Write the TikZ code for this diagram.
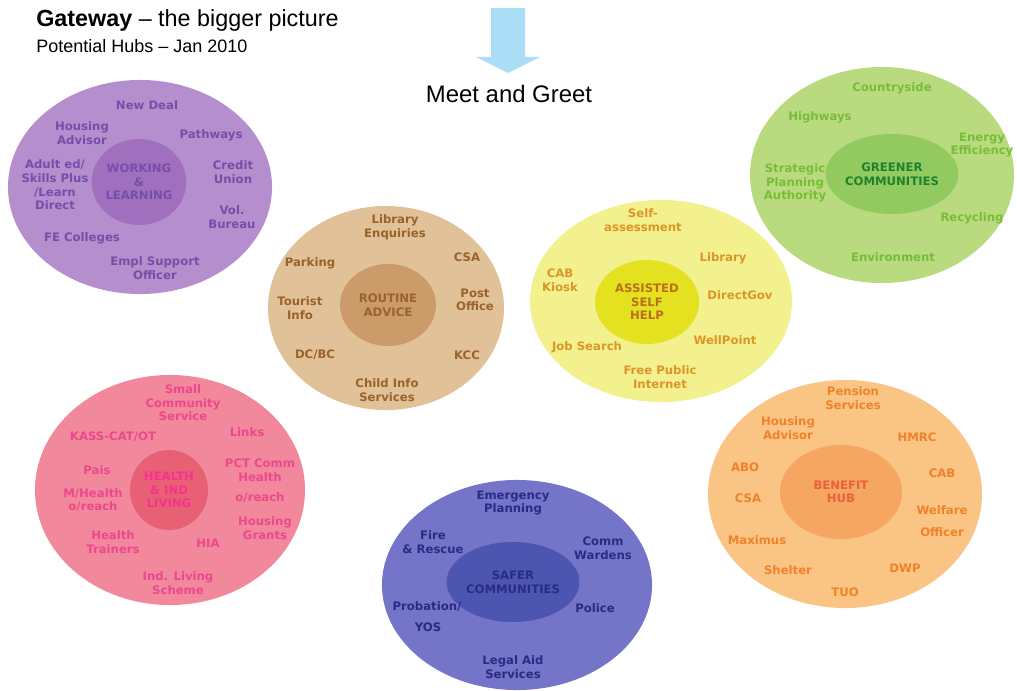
\documentclass[tikz,border=0pt]{standalone}
\usepackage{fontspec}
\setmainfont{Liberation Sans}
\newfontfamily\hubfont{DejaVu Sans}
\usetikzlibrary{shapes.geometric}

% fills and text colours of the seven hubs
\definecolor{wlOut}{RGB}{181,142,205}
\definecolor{wlIn}{RGB}{160,112,190}
\definecolor{wlTxt}{RGB}{118,78,170}
\definecolor{raOut}{RGB}{224,193,152}
\definecolor{raIn}{RGB}{204,155,106}
\definecolor{raTxt}{RGB}{155,98,42}
\definecolor{ashOut}{RGB}{243,240,142}
\definecolor{ashIn}{RGB}{228,226,32}
\definecolor{ashTxt}{RGB}{220,150,40}
\definecolor{ashCore}{RGB}{185,110,30}
\definecolor{gcOut}{RGB}{186,218,128}
\definecolor{gcIn}{RGB}{146,202,96}
\definecolor{gcTxt}{RGB}{118,190,55}
\definecolor{gcCore}{RGB}{30,130,45}
\definecolor{hlOut}{RGB}{242,136,156}
\definecolor{hlIn}{RGB}{231,96,116}
\definecolor{hlTxt}{RGB}{236,72,140}
\definecolor{hlCore}{RGB}{245,50,145}
\definecolor{scOut}{RGB}{116,116,200}
\definecolor{scIn}{RGB}{76,86,176}
\definecolor{scTxt}{RGB}{42,42,135}
\definecolor{bhOut}{RGB}{250,196,132}
\definecolor{bhIn}{RGB}{245,166,96}
\definecolor{bhTxt}{RGB}{240,130,40}
\definecolor{bhCore}{RGB}{234,96,60}
\definecolor{arrowBlue}{RGB}{172,221,246}

\tikzset{
  hub/.style={ellipse, inner sep=0pt, draw=none},
  core/.style={ellipse, inner sep=0pt, draw=none, align=center,
    font=\hubfont\bfseries\fontsize{8.3}{9.7}\selectfont},
  lbl/.style={align=center, inner sep=0pt,
    font=\hubfont\bfseries\fontsize{8.3}{9.7}\selectfont},
}

\begin{document}
\begin{tikzpicture}[x=0.025cm, y=-0.025cm]
\useasboundingbox (0,0) rectangle (1017,690);

% heading
\node[anchor=base west, inner sep=0pt, font=\fontsize{16.6}{19}\selectfont] (title) at (36,27)
  {\textbf{Gateway} -- the bigger picture};
\node[anchor=base west, inner sep=0pt, font=\fontsize{12.8}{15}\selectfont] (subtitle) at (36,53)
  {Potential Hubs -- Jan 2010};

% entry arrow
\fill[arrowBlue] (491,8) -- (525,8) -- (525,57) -- (540,57) -- (508,73)
  -- (476,57) -- (491,57) -- cycle;
\node[anchor=base, inner sep=0pt, font=\fontsize{17}{20}\selectfont] (meet) at (509,103)
  {Meet and Greet};

% Working & Learning
\node[hub, fill=wlOut, minimum width=6.6cm, minimum height=5.35cm] (wl) at (140,187) {};
\node[core, fill=wlIn, text=wlTxt, minimum width=2.3cm, minimum height=2.15cm] (wlc) at (139,182)
  {WORKING\\\&\\LEARNING};
\begin{scope}[every node/.append style={lbl, text=wlTxt}]
\node (wl1) at (147,105) {New Deal};
\node (wl2) at (82,133) {Housing\\Advisor};
\node (wl3) at (211,135) {Pathways};
\node (wl4) at (55,185) {Adult ed/\\Skills Plus\\/Learn\\Direct};
\node (wl5) at (233,172) {Credit\\Union};
\node (wl6) at (232,217) {Vol.\\Bureau};
\node (wl7) at (82,238) {FE Colleges};
\node (wl8) at (155,268) {Empl Support\\Officer};
\end{scope}

% Routine Advice
\node[hub, fill=raOut, minimum width=5.9cm, minimum height=5.1cm] (ra) at (386,308) {};
\node[core, fill=raIn, text=raTxt, minimum width=2.4cm, minimum height=2.05cm] (rac) at (388,305)
  {ROUTINE\\ADVICE};
\begin{scope}[every node/.append style={lbl, text=raTxt}]
\node (ra1) at (395,227) {Library\\Enquiries};
\node (ra2) at (467,257) {CSA};
\node (ra3) at (310,263) {Parking};
\node (ra4) at (300,308) {Tourist\\Info};
\node (ra5) at (475,300) {Post\\Office};
\node (ra6) at (315,355) {DC/BC};
\node (ra7) at (467,355) {KCC};
\node (ra8) at (387,390) {Child Info\\Services};
\end{scope}

% Assisted Self Help
\node[hub, fill=ashOut, minimum width=6.55cm, minimum height=5.05cm] (ash) at (661,301) {};
\node[core, fill=ashIn, text=ashCore, minimum width=2.6cm, minimum height=2.1cm] (ashc) at (647,302)
  {ASSISTED\\SELF\\HELP};
\begin{scope}[every node/.append style={lbl, text=ashTxt}]
\node (ash1) at (643,220) {Self-\\assessment};
\node (ash2) at (723,258) {Library};
\node (ash3) at (560,280) {CAB\\Kiosk};
\node (ash4) at (740,295) {DirectGov};
\node (ash5) at (725,340) {WellPoint};
\node (ash6) at (587,347) {Job Search};
\node (ash7) at (660,377) {Free Public\\Internet};
\end{scope}

% Greener Communities
\node[hub, fill=gcOut, minimum width=6.6cm, minimum height=5.4cm] (gc) at (882,175) {};
\node[core, fill=gcIn, text=gcCore, minimum width=2.8cm, minimum height=2.0cm] (gcc) at (892,174)
  {GREENER\\COMMUNITIES};
\begin{scope}[every node/.append style={lbl, text=gcTxt}]
\node (gc1) at (892,88) {Countryside};
\node (gc2) at (820,117) {Highways};
\node (gc3) at (982,145) {Energy\\Efficiency};
\node (gc4) at (795,183) {Strategic\\Planning\\Authority};
\node (gc5) at (972,218) {Recycling};
\node (gc6) at (893,257) {Environment};
\end{scope}

% Health & Independent Living
\node[hub, fill=hlOut, minimum width=6.75cm, minimum height=5.75cm] (hl) at (170,490) {};
\node[core, fill=hlIn, text=hlCore, minimum width=1.95cm, minimum height=2.0cm] (hlc) at (169,490)
  {HEALTH\\\& IND\\LIVING};
\begin{scope}[every node/.append style={lbl, text=hlTxt}]
\node (hl1) at (183,403) {Small\\Community\\Service};
\node (hl2) at (113,437) {KASS-CAT/OT};
\node (hl3) at (247,432) {Links};
\node (hl4) at (97,470) {Pais};
\node (hl5) at (260,470) {PCT Comm\\Health};
\node (hl6) at (93,500) {M/Health\\o/reach};
\node (hl7) at (260,498) {o/reach};
\node (hl8) at (265,528) {Housing\\Grants};
\node (hl9) at (113,542) {Health\\Trainers};
\node (hl10) at (208,543) {HIA};
\node (hl11) at (178,583) {Ind. Living\\Scheme};
\end{scope}

% Safer Communities
\node[hub, fill=scOut, minimum width=6.75cm, minimum height=5.25cm] (sc) at (517,585) {};
\node[core, fill=scIn, text=scTxt, minimum width=2.85cm, minimum height=2.0cm] (scc) at (513,582)
  {SAFER\\COMMUNITIES};
\begin{scope}[every node/.append style={lbl, text=scTxt}]
\node (sc1) at (513,503) {Emergency\\Planning};
\node (sc2) at (433,542) {Fire\\\& Rescue};
\node (sc3) at (603,548) {Comm\\Wardens};
\node (sc4) at (427,607) {Probation/};
\node (sc5) at (428,627) {YOS};
\node (sc6) at (595,608) {Police};
\node (sc7) at (513,667) {Legal Aid\\Services};
\end{scope}

% Benefit Hub
\node[hub, fill=bhOut, minimum width=6.85cm, minimum height=5.7cm] (bh) at (845,494) {};
\node[core, fill=bhIn, text=bhCore, minimum width=3.05cm, minimum height=2.35cm] (bhc) at (841,492)
  {BENEFIT\\HUB};
\begin{scope}[every node/.append style={lbl, text=bhTxt}]
\node (bh1) at (853,398) {Pension\\Services};
\node (bh2) at (788,428) {Housing\\Advisor};
\node (bh3) at (917,437) {HMRC};
\node (bh4) at (745,467) {ABO};
\node (bh5) at (942,473) {CAB};
\node (bh6) at (748,498) {CSA};
\node (bh7) at (942,510) {Welfare};
\node (bh8) at (942,532) {Officer};
\node (bh9) at (757,540) {Maximus};
\node (bh10) at (788,570) {Shelter};
\node (bh11) at (905,568) {DWP};
\node (bh12) at (845,592) {TUO};
\end{scope}
\end{tikzpicture}
\end{document}
